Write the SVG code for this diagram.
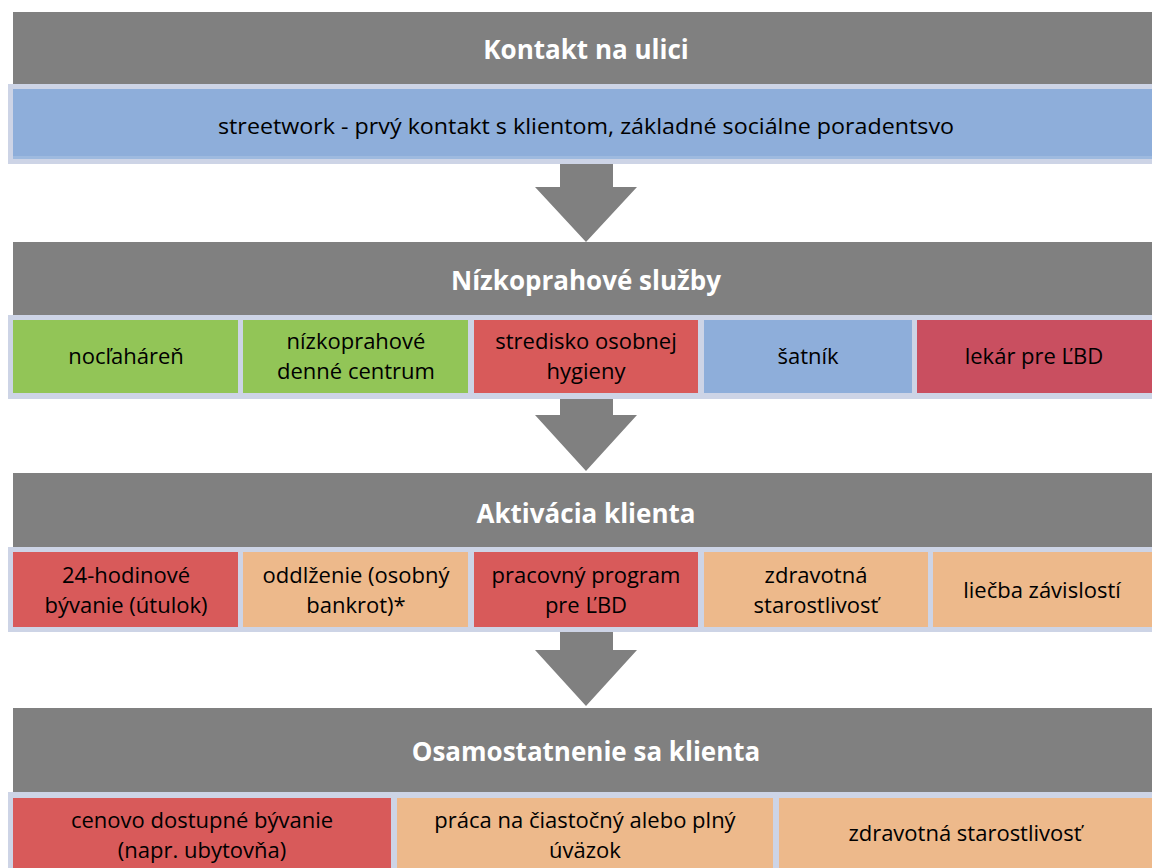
<svg xmlns="http://www.w3.org/2000/svg" width="1152" height="868" viewBox="0 0 1152 868">
<style>
.hdr{fill:#808080}
.ht{font-family:"Open Sans","Liberation Sans",sans-serif;font-weight:bold;font-size:26px;fill:#fff;text-anchor:middle}
.frame{fill:#CDD4E6}
.ct{font-family:"Open Sans","Liberation Sans",sans-serif;font-size:22px;fill:#000;text-anchor:middle}
.blue{fill:#8EAEDA}
.green{fill:#92C557}
.red{fill:#D85A5A}
.crim{fill:#C94F60}
.peach{fill:#EDB98B}
.arrow{fill:#808080}
.hl{fill:#fff;opacity:0.15}
</style>
<rect width="1152" height="868" fill="#fff"/>

<g id="connectors">
<path class="arrow" d="M560,160 H613 V187 H637 L586,242 L535,187 H560 Z"/>
<path class="arrow" d="M560,398 H613 V415 H637 L586,471 L535,415 H560 Z"/>
<path class="arrow" d="M560,632 H613 V650 H637 L586,706 L535,650 H560 Z"/>
</g>

<g id="stage1">
<rect class="hdr" x="13" y="12" width="1139" height="72"/>
<text class="ht" x="586" y="59">Kontakt na ulici</text>
</g>
<g id="streetwork">
<rect class="frame" x="8" y="84" width="1144" height="80"/>
<rect class="blue" x="13" y="89" width="1139" height="70"/>
<rect class="hl" x="13" y="156" width="1139" height="3"/>
<text class="ct" x="586" y="134" textLength="736" lengthAdjust="spacingAndGlyphs">streetwork - prvý kontakt s klientom, základné sociálne poradentsvo</text>
</g>

<g id="stage2">
<rect class="hdr" x="13" y="242" width="1139" height="73"/>
<text class="ht" x="586" y="290">Nízkoprahové služby</text>
</g>
<rect class="frame" x="8" y="315" width="1144" height="84"/>
<g id="noclaharen">
<rect class="green" x="13" y="320" width="225" height="73"/>
<text class="ct" x="126" y="364">nocľaháreň</text>
</g>
<g id="nizkoprahove-centrum">
<rect class="green" x="243" y="320" width="225" height="73"/>
<text class="ct" x="356" y="349">nízkoprahové</text>
<text class="ct" x="356" y="379">denné centrum</text>
</g>
<g id="hygiena">
<rect class="red" x="474" y="320" width="224" height="73"/>
<text class="ct" x="586" y="349">stredisko osobnej</text>
<text class="ct" x="586" y="379">hygieny</text>
</g>
<g id="satnik">
<rect class="blue" x="704" y="320" width="208" height="73"/>
<text class="ct" x="808" y="364">šatník</text>
</g>
<g id="lekar">
<rect class="crim" x="917" y="320" width="235" height="73"/>
<text class="ct" x="1034" y="364">lekár pre ĽBD</text>
</g>

<g id="stage3">
<rect class="hdr" x="13" y="473" width="1139" height="74"/>
<text class="ht" x="586" y="523">Aktivácia klienta</text>
</g>
<rect class="frame" x="8" y="547" width="1144" height="85"/>
<g id="utulok">
<rect class="red" x="13" y="552" width="225" height="75"/>
<text class="ct" x="126" y="583">24-hodinové</text>
<text class="ct" x="126" y="613">bývanie (útulok)</text>
</g>
<g id="oddlzenie">
<rect class="peach" x="243" y="552" width="225" height="75"/>
<text class="ct" x="356" y="583">oddlženie (osobný</text>
<text class="ct" x="356" y="613">bankrot)*</text>
</g>
<g id="pracovny-program">
<rect class="red" x="474" y="552" width="224" height="75"/>
<text class="ct" x="586" y="583">pracovný program</text>
<text class="ct" x="586" y="613">pre ĽBD</text>
</g>
<g id="zdravotna1">
<rect class="peach" x="704" y="552" width="224" height="75"/>
<text class="ct" x="816" y="583">zdravotná</text>
<text class="ct" x="816" y="613">starostlivosť</text>
</g>
<g id="liecba">
<rect class="peach" x="933" y="552" width="219" height="75"/>
<text class="ct" x="1042" y="598">liečba závislostí</text>
</g>

<g id="stage4">
<rect class="hdr" x="13" y="708" width="1139" height="84"/>
<text class="ht" x="586" y="761">Osamostatnenie sa klienta</text>
</g>
<rect class="frame" x="8" y="792" width="1144" height="76"/>
<g id="byvanie">
<rect class="red" x="13" y="798" width="378" height="70"/>
<text class="ct" x="202" y="828">cenovo dostupné bývanie</text>
<text class="ct" x="202" y="858">(napr. ubytovňa)</text>
</g>
<g id="praca">
<rect class="peach" x="397" y="798" width="376" height="70"/>
<text class="ct" x="585" y="828">práca na čiastočný alebo plný</text>
<text class="ct" x="585" y="858">úväzok</text>
</g>
<g id="zdravotna2">
<rect class="peach" x="779" y="798" width="373" height="70"/>
<text class="ct" x="965" y="841">zdravotná starostlivosť</text>
</g>
</svg>
